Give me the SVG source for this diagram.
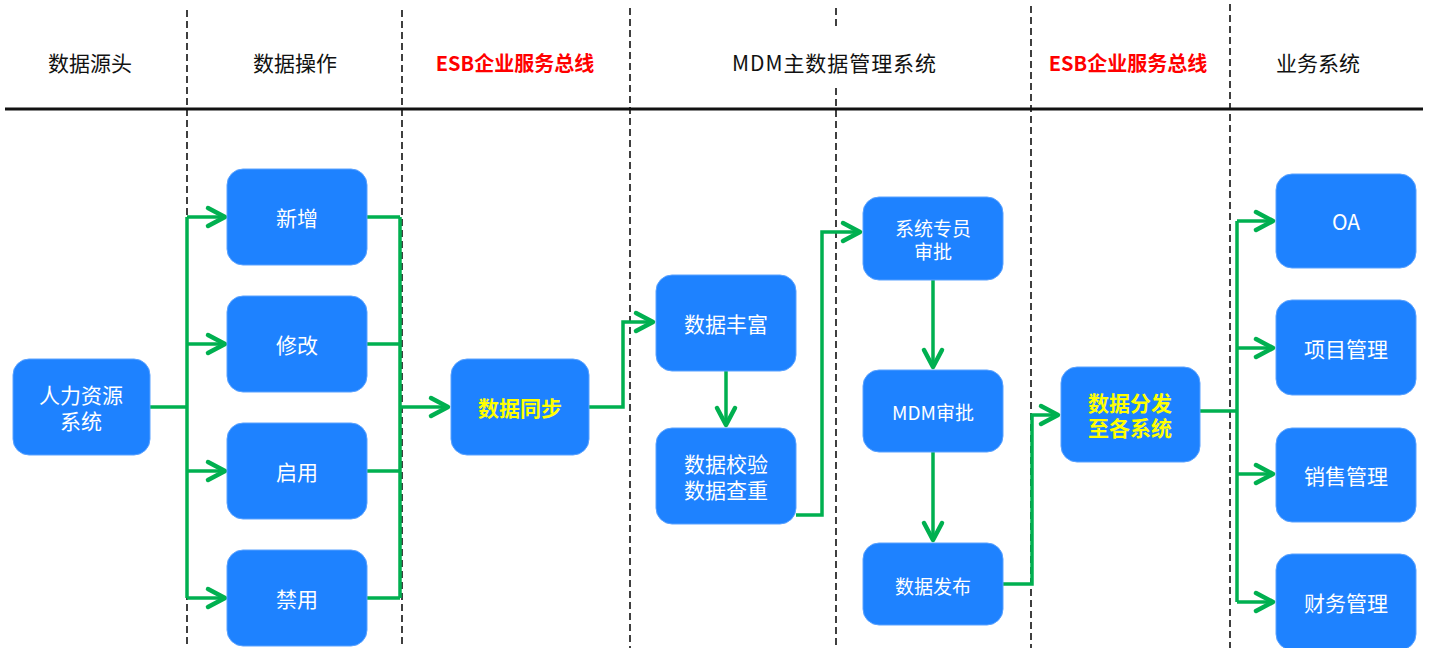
<svg xmlns="http://www.w3.org/2000/svg" width="1430" height="648" viewBox="0 0 1430 648">
<style>
.hd{font-family:"Noto Sans CJK SC","Liberation Sans",sans-serif;font-size:21px;fill:#111;text-anchor:middle;dominant-baseline:central}
.red{fill:#ff0000;font-weight:bold;font-size:20px}
.dash{stroke:#111;stroke-width:1.6;stroke-dasharray:7 4;fill:none}
.box{fill:#1e82ff;stroke:#5aa2ff;stroke-width:1}
.t{font-family:"Noto Sans CJK SC","Liberation Sans",sans-serif;font-size:21px;fill:#fff;text-anchor:middle;dominant-baseline:central}
.s{font-size:19px}
.y{fill:#ffff00;font-weight:bold}
.c{stroke:#00b050;stroke-width:3.5;fill:none;stroke-linejoin:miter}
</style>
<defs>
<marker id="arr" markerUnits="userSpaceOnUse" markerWidth="26" markerHeight="26" viewBox="-22 -13 26 26" refX="0" refY="0" orient="auto">
<path d="M-17,-9 L0,0 L-17,9" fill="none" stroke="#00b050" stroke-width="4.5" stroke-linecap="round" stroke-linejoin="round"/>
</marker>
</defs>
<rect width="1430" height="648" fill="#fff"/>
<g id="grid">
<line class="dash" x1="187" y1="10" x2="187" y2="648"/>
<line class="dash" x1="402" y1="10" x2="402" y2="648"/>
<line class="dash" x1="630" y1="8" x2="630" y2="648"/>
<line class="dash" x1="836" y1="8" x2="836" y2="29"/>
<line class="dash" x1="836" y1="88" x2="836" y2="648"/>
<line class="dash" x1="1031" y1="6" x2="1031" y2="648"/>
<line class="dash" x1="1230" y1="4" x2="1230" y2="648"/>
<line x1="5" y1="109" x2="1423" y2="109" stroke="#111" stroke-width="3"/>
</g>
<g id="headers">
<text class="hd" x="90" y="62">数据源头</text>
<text class="hd" x="295" y="62">数据操作</text>
<text class="hd red" x="515" y="62">ESB企业服务总线</text>
<text class="hd" x="834" y="62" textLength="204" lengthAdjust="spacing">MDM主数据管理系统</text>
<text class="hd red" x="1128" y="62">ESB企业服务总线</text>
<text class="hd" x="1318" y="62">业务系统</text>
</g>
<g id="connectors">
<path class="c" d="M150,407 H187"/>
<path class="c" d="M187,217 V598"/>
<path class="c" d="M187,217 H225" marker-end="url(#arr)"/>
<path class="c" d="M187,344 H225" marker-end="url(#arr)"/>
<path class="c" d="M187,471 H225" marker-end="url(#arr)"/>
<path class="c" d="M187,598 H225" marker-end="url(#arr)"/>
<path class="c" d="M367,217 H400 M367,344 H400 M367,471 H400 M367,598 H400 M400,217 V598"/>
<path class="c" d="M400,407 H448" marker-end="url(#arr)"/>
<path class="c" d="M589,407 H623 V322 H653" marker-end="url(#arr)"/>
<path class="c" d="M726,371 V425" marker-end="url(#arr)"/>
<path class="c" d="M796,515 H822 V232 H860" marker-end="url(#arr)"/>
<path class="c" d="M933,280 V367" marker-end="url(#arr)"/>
<path class="c" d="M933,452 V540" marker-end="url(#arr)"/>
<path class="c" d="M1003,584 H1032 V415 H1058" marker-end="url(#arr)"/>
<path class="c" d="M1200,411 H1237 M1237,221 V602"/>
<path class="c" d="M1237,221 H1273" marker-end="url(#arr)"/>
<path class="c" d="M1237,348 H1273" marker-end="url(#arr)"/>
<path class="c" d="M1237,474 H1273" marker-end="url(#arr)"/>
<path class="c" d="M1237,602 H1273" marker-end="url(#arr)"/>
</g>
<g id="n-hr"><rect class="box" x="13" y="359" width="137" height="96" rx="16"/><text class="t"><tspan x="81" y="394">人力资源</tspan><tspan x="81" y="420">系统</tspan></text></g>
<g id="n-add"><rect class="box" x="227" y="169" width="140" height="96" rx="16"/><text class="t" x="297" y="217">新增</text></g>
<g id="n-edit"><rect class="box" x="227" y="296" width="140" height="96" rx="16"/><text class="t" x="297" y="344">修改</text></g>
<g id="n-enable"><rect class="box" x="227" y="423" width="140" height="96" rx="16"/><text class="t" x="297" y="471">启用</text></g>
<g id="n-disable"><rect class="box" x="227" y="550" width="140" height="96" rx="16"/><text class="t" x="297" y="598">禁用</text></g>
<g id="n-sync"><rect class="box" x="451" y="359" width="138" height="96" rx="16"/><text class="t y" x="520" y="407">数据同步</text></g>
<g id="n-enrich"><rect class="box" x="656" y="275" width="140" height="96" rx="16"/><text class="t" x="726" y="323">数据丰富</text></g>
<g id="n-check"><rect class="box" x="656" y="428" width="140" height="96" rx="16"/><text class="t"><tspan x="726" y="463">数据校验</tspan><tspan x="726" y="489">数据查重</tspan></text></g>
<g id="n-staff"><rect class="box" x="863" y="197" width="140" height="83" rx="16"/><text class="t s"><tspan x="933" y="227">系统专员</tspan><tspan x="933" y="250">审批</tspan></text></g>
<g id="n-mdm"><rect class="box" x="863" y="370" width="140" height="82" rx="16"/><text class="t s" x="933" y="411">MDM审批</text></g>
<g id="n-pub"><rect class="box" x="863" y="543" width="140" height="82" rx="16"/><text class="t s" x="933" y="585">数据发布</text></g>
<g id="n-dist"><rect class="box" x="1061" y="367" width="139" height="95" rx="16"/><text class="t y"><tspan x="1130" y="402">数据分发</tspan><tspan x="1130" y="427">至各系统</tspan></text></g>
<g id="n-oa"><rect class="box" x="1276" y="174" width="140" height="94" rx="16"/><text class="t" x="1346" y="221">OA</text></g>
<g id="n-proj"><rect class="box" x="1276" y="300" width="140" height="95" rx="16"/><text class="t" x="1346" y="348">项目管理</text></g>
<g id="n-sales"><rect class="box" x="1276" y="428" width="140" height="94" rx="16"/><text class="t" x="1346" y="475">销售管理</text></g>
<g id="n-fin"><rect class="box" x="1276" y="554" width="140" height="96" rx="16"/><text class="t" x="1346" y="602">财务管理</text></g>
</svg>
